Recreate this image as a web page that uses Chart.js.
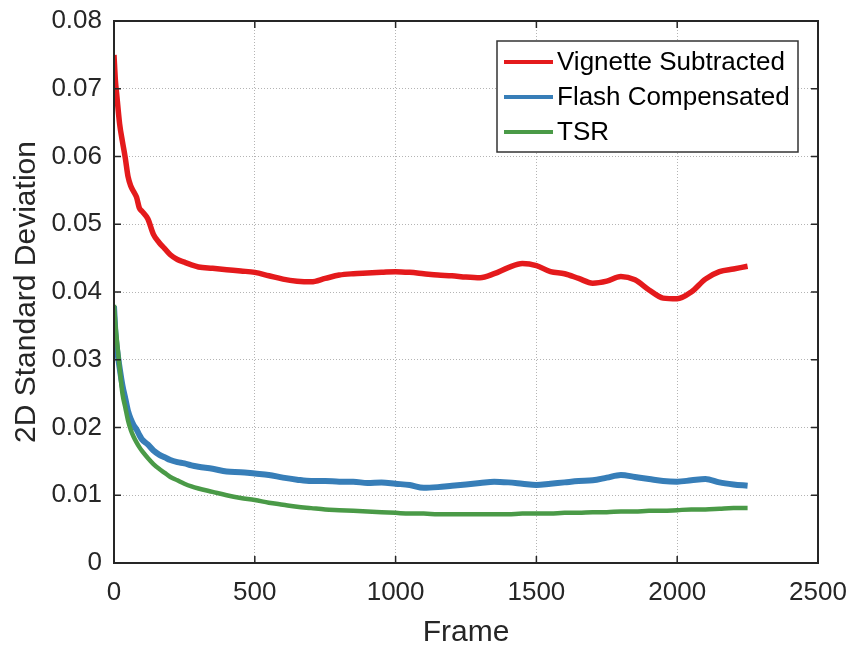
<!DOCTYPE html>
<html>
<head>
<meta charset="utf-8">
<script src="https://cdn.jsdelivr.net/npm/chart.js@4/dist/chart.umd.min.js"></script>
<style>
  html, body { margin: 0; padding: 0; background: #fff; }
  #wrap { width: 851px; height: 648px; }
</style>
</head>
<body>
<div id="wrap"><canvas id="chart" width="851" height="648"></canvas></div>
<script>
// Frame numbers where each curve was sampled.
const frames = [
    0, 5, 10, 20, 30, 40, 50, 60, 70, 80, 90, 100, 120, 140, 160, 180, 200, 225, 250, 275, 300,
    350, 400, 450, 500, 550, 600, 650, 700, 750, 800, 850, 900, 950, 1000,
    1050, 1100, 1150, 1200, 1250, 1300, 1350, 1400, 1450, 1500,
    1550, 1600, 1650, 1700, 1750, 1800, 1850, 1900, 1950, 2000,
    2050, 2100, 2150, 2200, 2250,
];

const vignetteSubtracted = [
    0.0750, 0.0712, 0.0690, 0.0648, 0.0622, 0.0598, 0.0570, 0.0556, 0.0548, 0.0540, 0.0524,
    0.0519, 0.0508, 0.0485, 0.0473, 0.0464, 0.0455, 0.0448, 0.0444, 0.0440, 0.0437,
    0.0435, 0.0433, 0.0431, 0.0429, 0.0424, 0.0419, 0.0416, 0.0415, 0.0420, 0.0425,
    0.0427, 0.0428, 0.0429, 0.0430, 0.0429, 0.0427, 0.0425, 0.0424, 0.0422, 0.0421,
    0.0427, 0.0436, 0.0442, 0.0439, 0.0430, 0.0427, 0.0420, 0.0413, 0.0416, 0.0423,
    0.0418, 0.0403, 0.0391, 0.0390, 0.0400, 0.0419, 0.0430, 0.0434, 0.0438,
];

const flashCompensated = [
    0.0379, 0.0340, 0.0318, 0.0288, 0.0262, 0.0243, 0.0224, 0.0212, 0.0203, 0.0197, 0.0189,
    0.0182, 0.0175, 0.0166, 0.0160, 0.0156, 0.0152, 0.0149, 0.0147, 0.0144, 0.0142,
    0.0139, 0.0135, 0.0134, 0.0132, 0.0130, 0.0126, 0.0123, 0.0121, 0.0121, 0.0120,
    0.0120, 0.0118, 0.0119, 0.0117, 0.0115, 0.0111, 0.0112, 0.0114, 0.0116, 0.0118,
    0.0120, 0.0119, 0.0117, 0.0115, 0.0117, 0.0119, 0.0121, 0.0122, 0.0126, 0.0130,
    0.0127, 0.0124, 0.0121, 0.0120, 0.0122, 0.0124, 0.0119, 0.0116, 0.0114,
];

const tsr = [
    0.0381, 0.0352, 0.0330, 0.0288, 0.0250, 0.0230, 0.0210, 0.0196, 0.0186, 0.0178, 0.0171,
    0.0165, 0.0155, 0.0146, 0.0139, 0.0133, 0.0127, 0.0122, 0.0117, 0.0113, 0.0110,
    0.0105, 0.0100, 0.0096, 0.0093, 0.0089, 0.0086, 0.0083, 0.0081, 0.0079, 0.0078,
    0.0077, 0.0076, 0.0075, 0.0074, 0.0073, 0.0073, 0.0072, 0.0072, 0.0072, 0.0072,
    0.0072, 0.0072, 0.0073, 0.0073, 0.0073, 0.0074, 0.0074, 0.0075, 0.0075, 0.0076,
    0.0076, 0.0077, 0.0077, 0.0078, 0.0079, 0.0079, 0.0080, 0.0081, 0.0081,
];

const seriesLabels = ['Vignette Subtracted', 'Flash Compensated', 'TSR'];
const seriesColors = ['#e41a1c', '#377eb8', '#4a9a47'];

const FONT = '"Liberation Sans", Arial, sans-serif';
const INK = '#262626';

const toPoints = (values) => frames.map((f, i) => ({ x: f, y: values[i] }));

// Box around the plot with inward tick marks on all four sides (MATLAB style).
const boxPlugin = {
    id: 'box',
    afterDatasetsDraw(chart) {
        const { ctx, chartArea: a, scales: { x, y } } = chart;
        ctx.save();
        ctx.strokeStyle = INK;
        ctx.lineWidth = 2;
        ctx.strokeRect(a.left, a.top, a.right - a.left, a.bottom - a.top);
        ctx.lineWidth = 1.5;
        ctx.beginPath();
        x.ticks.forEach((t) => {
            const px = x.getPixelForValue(t.value);
            ctx.moveTo(px, a.bottom); ctx.lineTo(px, a.bottom - 7);
            ctx.moveTo(px, a.top); ctx.lineTo(px, a.top + 7);
        });
        y.ticks.forEach((t) => {
            const py = y.getPixelForValue(t.value);
            ctx.moveTo(a.left, py); ctx.lineTo(a.left + 7, py);
            ctx.moveTo(a.right, py); ctx.lineTo(a.right - 7, py);
        });
        ctx.stroke();
        ctx.restore();
    },
};

// Legend box in the upper right corner of the plot.
const legendPlugin = {
    id: 'boxLegend',
    afterDraw(chart) {
        const { ctx } = chart;
        const left = 497, top = 41, w = 301, h = 111;
        ctx.save();
        ctx.fillStyle = '#fff';
        ctx.fillRect(left, top, w, h);
        ctx.strokeStyle = '#333';
        ctx.lineWidth = 1.5;
        ctx.strokeRect(left, top, w, h);
        ctx.font = '26px ' + FONT;
        ctx.textBaseline = 'middle';
        chart.data.datasets.forEach((ds, i) => {
            const yy = top + 21 + i * 35;
            ctx.strokeStyle = ds.borderColor;
            ctx.lineWidth = 4;
            ctx.beginPath();
            ctx.moveTo(left + 7, yy);
            ctx.lineTo(left + 56, yy);
            ctx.stroke();
            ctx.fillStyle = '#000';
            ctx.fillText(ds.label, left + 60, yy + 1);
        });
        ctx.restore();
    },
};

new Chart(document.getElementById('chart'), {
    type: 'line',
    data: {
        datasets: [
            { label: seriesLabels[0], data: toPoints(vignetteSubtracted), borderColor: seriesColors[0], borderWidth: 5.5, order: 2 },
            { label: seriesLabels[1], data: toPoints(flashCompensated), borderColor: seriesColors[1], borderWidth: 6, order: 1 },
            { label: seriesLabels[2], data: toPoints(tsr), borderColor: seriesColors[2], borderWidth: 4.5, order: 0 },
        ],
    },
    options: {
        responsive: false,
        animation: false,
        elements: {
            point: { radius: 0 },
            line: { cubicInterpolationMode: 'monotone', fill: false },
        },
        layout: { padding: { top: 21, right: 33, left: 0, bottom: 0 } },
        plugins: {
            legend: { display: false },
            tooltip: { enabled: false },
        },
        scales: {
            x: {
                type: 'linear',
                min: 0,
                max: 2500,
                afterFit: (s) => {
                    s.height = 85;
                    s.paddingLeft = 0;
                    s.paddingRight = 0;
                },
                ticks: {
                    stepSize: 500,
                    color: INK,
                    padding: 14,
                    font: { family: FONT, size: 26 },
                    callback: (v) => String(v),
                },
                grid: { color: '#b4b4b4', lineWidth: 1, drawTicks: false },
                border: { display: false, dash: [1, 2] },
                title: {
                    display: true, text: 'Frame', color: INK, padding: 0,
                    font: { family: FONT, size: 30, lineHeight: 1 },
                },
            },
            y: {
                type: 'linear',
                min: 0,
                max: 0.08,
                afterFit: (s) => {
                    s.width = 114;
                    s.paddingTop = 0;
                    s.paddingBottom = 0;
                },
                ticks: {
                    stepSize: 0.01,
                    color: INK,
                    padding: 12,
                    font: { family: FONT, size: 26 },
                    callback: (v) => (v === 0 ? '0' : Number(v).toFixed(2)),
                },
                grid: { color: '#b4b4b4', lineWidth: 1, drawTicks: false },
                border: { display: false, dash: [1, 2] },
                title: {
                    display: true, text: '2D Standard Deviation', color: INK, padding: { top: 9 },
                    font: { family: FONT, size: 30, lineHeight: 1.2 },
                },
            },
        },
    },
    plugins: [boxPlugin, legendPlugin],
});
</script>
</body>
</html>
